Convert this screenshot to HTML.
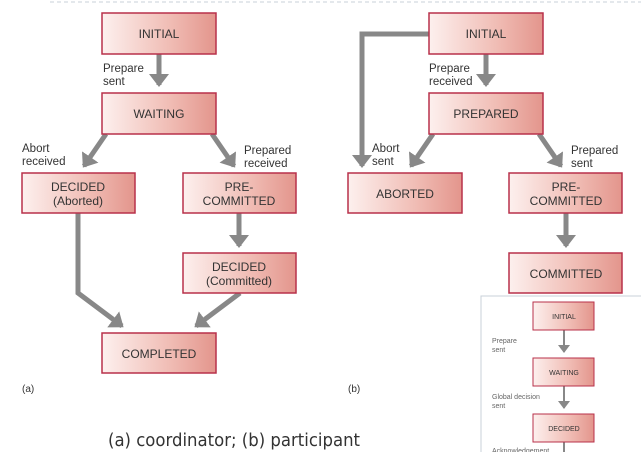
<!DOCTYPE html>
<html><head><meta charset="utf-8"><style>
html,body{margin:0;padding:0;background:#fff;width:641px;height:452px;overflow:hidden}
text{font-family:"Liberation Sans",sans-serif;fill:#333}
</style></head><body>
<svg width="641" height="452" viewBox="0 0 641 452" xmlns="http://www.w3.org/2000/svg">
<defs>
<linearGradient id="g" x1="0" x2="1" y1="0" y2="0"><stop offset="0" stop-color="#fdf0ee"/><stop offset="0.6" stop-color="#f0bcb4"/><stop offset="1" stop-color="#e3958c"/></linearGradient>
<marker id="ah" markerWidth="4" markerHeight="4" refX="2.2" refY="2" orient="auto" markerUnits="strokeWidth"><path d="M0,0 L2.6,2 L0,4 Z" fill="#888"/></marker>
<marker id="ah2" markerWidth="6" markerHeight="6" refX="3.5" refY="3" orient="auto" markerUnits="strokeWidth"><path d="M0,0 L4,3 L0,6 Z" fill="#888"/></marker>
</defs>
<line x1="50" y1="2" x2="641" y2="2" stroke="#c8d0d8" stroke-dasharray="4,3"/>
<g fill="none" stroke="#888" stroke-width="5">
<line x1="159" y1="54" x2="159" y2="85" marker-end="url(#ah)"/>
<line x1="106" y1="134" x2="84" y2="166" marker-end="url(#ah)"/>
<line x1="212" y1="134" x2="234" y2="166" marker-end="url(#ah)"/>
<line x1="239" y1="213" x2="239" y2="246" marker-end="url(#ah)"/>
<polyline points="78,213 78,293 122,326" marker-end="url(#ah)"/>
<line x1="240" y1="293" x2="196" y2="326" marker-end="url(#ah)"/>
<line x1="486" y1="54" x2="486" y2="85" marker-end="url(#ah)"/>
<polyline points="429,34 362,34 362,166" marker-end="url(#ah)"/>
<line x1="433" y1="134" x2="411" y2="166" marker-end="url(#ah)"/>
<line x1="539" y1="134" x2="561" y2="166" marker-end="url(#ah)"/>
<line x1="566" y1="213" x2="566" y2="246" marker-end="url(#ah)"/>
</g>
<g fill="url(#g)" stroke="#b8304a" stroke-width="1.5">
<rect x="102" y="13" width="114" height="41"/>
<rect x="102" y="93" width="114" height="41"/>
<rect x="22" y="173" width="113" height="40"/>
<rect x="183" y="173" width="113" height="40"/>
<rect x="183" y="253" width="113" height="40"/>
<rect x="102" y="333" width="114" height="40"/>
<rect x="429" y="13" width="114" height="41"/>
<rect x="429" y="93" width="114" height="41"/>
<rect x="348" y="173" width="114" height="40"/>
<rect x="509" y="173" width="113" height="40"/>
<rect x="509" y="253" width="113" height="40"/>
</g>
<g font-size="12" text-anchor="middle">
<text x="159" y="38">INITIAL</text>
<text x="159" y="118">WAITING</text>
<text x="78" y="191">DECIDED</text><text x="78" y="205">(Aborted)</text>
<text x="239" y="191">PRE-</text><text x="239" y="205">COMMITTED</text>
<text x="239" y="271">DECIDED</text><text x="239" y="285">(Committed)</text>
<text x="159" y="358">COMPLETED</text>
<text x="486" y="38">INITIAL</text>
<text x="486" y="118">PREPARED</text>
<text x="405" y="198">ABORTED</text>
<text x="566" y="191">PRE-</text><text x="566" y="205">COMMITTED</text>
<text x="566" y="278">COMMITTED</text>
</g>
<g font-size="11.5">
<text x="103" y="72">Prepare</text><text x="103" y="85">sent</text>
<text x="22" y="152">Abort</text><text x="22" y="165">received</text>
<text x="244" y="154">Prepared</text><text x="244" y="167">received</text>
<text x="429" y="72">Prepare</text><text x="429" y="85">received</text>
<text x="372" y="152">Abort</text><text x="372" y="165">sent</text>
<text x="571" y="154">Prepared</text><text x="571" y="167">sent</text>
<text x="22" y="392" font-size="10">(a)</text>
<text x="348" y="392" font-size="10">(b)</text>
</g>
<text x="108" y="446" font-size="18" textLength="252" lengthAdjust="spacingAndGlyphs" style="font-family:'DejaVu Sans',sans-serif" fill="#111">(a) coordinator; (b) participant</text>
<rect x="481" y="296" width="162" height="160" fill="#fff" stroke="#c8d0d8"/>
<g fill="none" stroke="#888" stroke-width="2">
<line x1="564" y1="330" x2="564" y2="352" marker-end="url(#ah2)"/>
<line x1="564" y1="386" x2="564" y2="408" marker-end="url(#ah2)"/>
<line x1="564" y1="442" x2="564" y2="452"/>
</g>
<g fill="url(#g)" stroke="#b8304a" stroke-width="1">
<rect x="533" y="302" width="61" height="28"/>
<rect x="533" y="358" width="61" height="28"/>
<rect x="533" y="414" width="61" height="28"/>
</g>
<g font-size="7" text-anchor="middle">
<text x="564" y="319">INITIAL</text>
<text x="564" y="375">WAITING</text>
<text x="564" y="431">DECIDED</text>
</g>
<g font-size="7">
<text x="492" y="343" style="fill:#666">Prepare</text><text x="492" y="352" style="fill:#666">sent</text>
<text x="492" y="399" style="fill:#666">Global decision</text><text x="492" y="408" style="fill:#666">sent</text>
<text x="492" y="453" style="fill:#666">Acknowledgement</text>
</g>
</svg>
</body></html>
